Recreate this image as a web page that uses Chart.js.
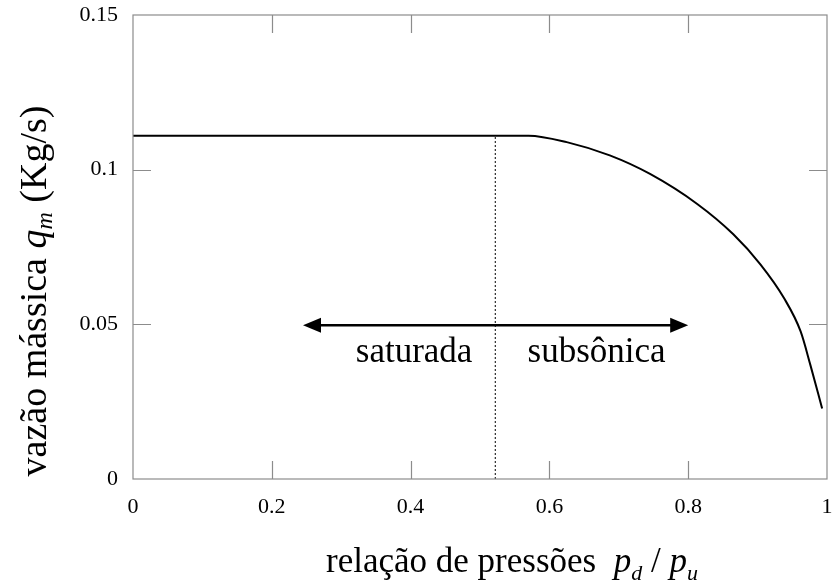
<!DOCTYPE html>
<html>
<head>
<meta charset="utf-8">
<script src="https://cdn.jsdelivr.net/npm/chart.js@4.4.1/dist/chart.umd.min.js"></script>
<style>
  html, body { margin: 0; padding: 0; background: #fff; }
  #wrap { width: 834px; height: 585px; }
</style>
</head>
<body>
<div id="wrap"><canvas id="chart" width="834" height="585"></canvas></div>
<script>
// Pressure ratio pd/pu and mass flow qm (kg/s)
const ratio = [0, 0.1, 0.2, 0.3, 0.4, 0.5, 0.57, 0.625, 0.687, 0.745, 0.813, 0.865, 0.904, 0.938, 0.962, 0.976, 0.993];
const flow  = [0.111, 0.111, 0.111, 0.111, 0.111, 0.111, 0.111, 0.1089, 0.1046, 0.0986, 0.0889, 0.0791, 0.0694, 0.0585, 0.0477, 0.0369, 0.0228];

// Critical pressure ratio (dotted line) and the arrow marking the regions
const criticalRatio = 0.522;
const arrowFrom = 0.245;
const arrowTo = 0.8;
const arrowLevel = 0.0497;
const regionLabels = ['saturada', 'subsônica'];
const regionLabelX = [0.405, 0.668];

const xTicks = [0, 0.2, 0.4, 0.6, 0.8, 1];
const yTicks = [0, 0.05, 0.1, 0.15];

const serif = '"Liberation Serif", "DejaVu Serif", serif';

function toPoints(xs, ys) {
    return xs.map((x, i) => ({ x: x, y: ys[i] }));
}

// Frame, inward ticks, arrow heads and all the free text
const decorPlugin = {
    id: 'decor',
    afterDraw(chart) {
        const ctx = chart.ctx;
        const a = chart.chartArea;
        const xs = chart.scales.x;
        const ys = chart.scales.y;
        ctx.save();

        // frame
        ctx.strokeStyle = '#8c8c8c';
        ctx.lineWidth = 1.2;
        ctx.strokeRect(a.left, a.top, a.right - a.left, a.bottom - a.top);

        // inward ticks on all four sides
        const len = 18;
        ctx.beginPath();
        xTicks.slice(1, -1).forEach(v => {
            const px = Math.round(xs.getPixelForValue(v)) + 0.5;
            ctx.moveTo(px, a.bottom); ctx.lineTo(px, a.bottom - len);
            ctx.moveTo(px, a.top); ctx.lineTo(px, a.top + len);
        });
        yTicks.slice(1, -1).forEach(v => {
            const py = Math.round(ys.getPixelForValue(v)) + 0.5;
            ctx.moveTo(a.left, py); ctx.lineTo(a.left + len, py);
            ctx.moveTo(a.right, py); ctx.lineTo(a.right - len, py);
        });
        ctx.stroke();

        // arrow heads
        const ay = ys.getPixelForValue(arrowLevel);
        const x0 = xs.getPixelForValue(arrowFrom);
        const x1 = xs.getPixelForValue(arrowTo);
        ctx.fillStyle = '#000';
        ctx.beginPath();
        ctx.moveTo(x0, ay); ctx.lineTo(x0 + 18, ay - 7.5); ctx.lineTo(x0 + 18, ay + 7.5);
        ctx.closePath();
        ctx.fill();
        ctx.beginPath();
        ctx.moveTo(x1, ay); ctx.lineTo(x1 - 18, ay - 7.5); ctx.lineTo(x1 - 18, ay + 7.5);
        ctx.closePath();
        ctx.fill();

        // region labels
        ctx.font = '35px ' + serif;
        ctx.textAlign = 'center';
        ctx.textBaseline = 'alphabetic';
        regionLabels.forEach((t, i) => {
            ctx.fillText(t, xs.getPixelForValue(regionLabelX[i]), ay + 37);
        });

        // x axis title: relação de pressões  pd / pu
        const xParts = [
            { t: 'relação de pressões  ', f: '35px ' + serif, dy: 0 },
            { t: 'p', f: 'italic 35px ' + serif, dy: 0 },
            { t: 'd', f: 'italic 22px ' + serif, dy: 8 },
            { t: ' / ', f: '35px ' + serif, dy: 0 },
            { t: 'p', f: 'italic 35px ' + serif, dy: 0 },
            { t: 'u', f: 'italic 22px ' + serif, dy: 8 }
        ];
        drawParts(ctx, xParts, 512, 572);

        // y axis title, rotated
        const yParts = [
            { t: 'vazão mássica ', f: '38px ' + serif, dy: 0 },
            { t: 'q', f: 'italic 38px ' + serif, dy: 0 },
            { t: 'm', f: 'italic 24px ' + serif, dy: 6 },
            { t: ' (Kg/s)', f: '38px ' + serif, dy: 0 }
        ];
        ctx.save();
        ctx.translate(46, 291);
        ctx.rotate(-Math.PI / 2);
        drawParts(ctx, yParts, 0, 0);
        ctx.restore();

        ctx.restore();
    }
};

// draw a row of text pieces centred on cx, baseline at by
function drawParts(ctx, parts, cx, by) {
    let total = 0;
    parts.forEach(p => { ctx.font = p.f; p.w = ctx.measureText(p.t).width; total += p.w; });
    let x = cx - total / 2;
    ctx.textAlign = 'left';
    ctx.textBaseline = 'alphabetic';
    ctx.fillStyle = '#000';
    parts.forEach(p => {
        ctx.font = p.f;
        ctx.fillText(p.t, x, by + p.dy);
        x += p.w;
    });
}

const ctx = document.getElementById('chart').getContext('2d');
const chart = new Chart(ctx, {
    type: 'line',
    data: {
        datasets: [
            {
                label: 'qm',
                data: toPoints(ratio, flow),
                borderColor: '#000',
                borderWidth: 2,
                pointRadius: 0,
                cubicInterpolationMode: 'monotone'
            },
            {
                label: 'critical',
                data: toPoints([criticalRatio, criticalRatio], [0, flow[0]]),
                borderColor: '#000',
                borderWidth: 1,
                borderDash: [2, 2],
                pointRadius: 0
            },
            {
                label: 'arrow',
                data: toPoints([arrowFrom + 0.01, arrowTo - 0.01], [arrowLevel, arrowLevel]),
                borderColor: '#000',
                borderWidth: 2.5,
                pointRadius: 0
            }
        ]
    },
    options: {
        responsive: false,
        animation: false,
        layout: { padding: { top: 15, right: 7, left: 0, bottom: 0 } },
        plugins: {
            legend: { display: false },
            tooltip: { enabled: false }
        },
        scales: {
            x: {
                type: 'linear',
                min: 0,
                max: 1,
                grid: { display: false, drawTicks: false },
                border: { display: false },
                afterFit: s => { s.height = 106; s.paddingLeft = 0; s.paddingRight = 0; },
                afterBuildTicks: s => { s.ticks = xTicks.map(v => ({ value: v })); },
                ticks: {
                    color: '#000',
                    padding: 15,
                    font: { family: serif, size: 22 },
                    maxRotation: 0,
                    callback: v => String(+v.toFixed(2))
                }
            },
            y: {
                type: 'linear',
                min: 0,
                max: 0.15,
                grid: { display: false, drawTicks: false },
                border: { display: false },
                afterFit: s => { s.width = 133; s.paddingTop = 0; s.paddingBottom = 0; },
                afterBuildTicks: s => { s.ticks = yTicks.map(v => ({ value: v })); },
                ticks: {
                    color: '#000',
                    padding: 15,
                    font: { family: serif, size: 22 },
                    callback: v => String(+v.toFixed(2))
                }
            }
        }
    },
    plugins: [decorPlugin]
});
</script>
</body>
</html>
